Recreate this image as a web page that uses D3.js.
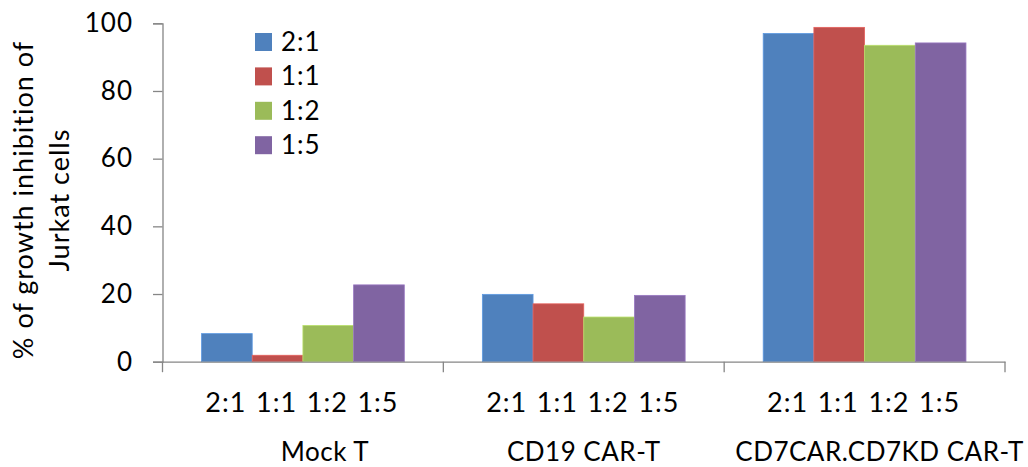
<!DOCTYPE html>
<html>
<head>
<meta charset="utf-8">
<script src="https://cdn.jsdelivr.net/npm/d3@7"></script>
<style>
  body { margin: 0; background: #fff; }
  text { font-family: Lato, "Open Sans", sans-serif; fill: #000; }
</style>
</head>
<body>
<div id="chart"></div>
<script>
// data
var groups = ["Mock T", "CD19 CAR-T", "CD7CAR.CD7KD CAR-T"];
var ratios = ["2:1", "1:1", "1:2", "1:5"];
var mockT = [8.3, 1.9, 10.7, 22.7];
var cd19 = [19.9, 17.1, 13.2, 19.6];
var cd7 = [97.0, 98.8, 93.5, 94.2];
var yTicks = [0, 20, 40, 60, 80, 100];
var colors = ["#4F81BD", "#C0504D", "#9BBB59", "#8064A2"];

var seriesByGroup = [mockT, cd19, cd7];

var width = 1028,
    height = 467;

var svg = d3.select("#chart")
    .append("svg")
    .attr("width", width)
    .attr("height", height);

var x0 = d3.scaleBand()
    .domain(groups)
    .range([162.5, 1005])
    .padding(0);

var x1 = d3.scaleBand()
    .domain(ratios)
    .range([0, x0.bandwidth()])
    .paddingInner(0)
    .paddingOuter(0.77);

var y = d3.scaleLinear()
    .domain([0, 100])
    .range([361.7, 23.3]);

var axisColor = "#868686";

// bars
var g = svg.selectAll(".grp")
    .data(groups)
    .enter().append("g")
    .attr("class", "grp")
    .attr("transform", function(d) { return "translate(" + x0(d) + ",0)"; });

g.selectAll("rect")
    .data(function(d, i) {
      return ratios.map(function(r, j) { return { r: r, v: seriesByGroup[i][j], c: colors[j] }; });
    })
    .enter().append("rect")
    .attr("x", function(d) { return x1(d.r); })
    .attr("y", function(d) { return y(d.v); })
    .attr("width", x1.bandwidth())
    .attr("height", function(d) { return y(0) - y(d.v); })
    .attr("fill", function(d) { return d.c; })
    .attr("stroke", function(d) { return d3.color(d.c).brighter(0.5); })
    .attr("stroke-width", 0.8);

// y axis
var yAxis = svg.append("g")
    .attr("transform", "translate(162.5,0)")
    .call(d3.axisLeft(y).tickValues(yTicks).tickSize(9.5).tickPadding(20));
yAxis.select(".domain").attr("stroke", axisColor).attr("stroke-width", 1.3);
yAxis.selectAll(".tick line").attr("stroke", axisColor).attr("stroke-width", 1.3);
yAxis.selectAll(".tick text")
    .style("font-family", "Lato, sans-serif")
    .style("letter-spacing", "1px")
    .attr("font-size", 26)
    .attr("fill", "#000");

// x baseline and group separators
var xAxis = svg.append("g")
    .attr("transform", "translate(0," + y(0) + ")")
    .call(d3.axisBottom(x0).tickSize(0).tickFormat(""));
xAxis.select(".domain").attr("stroke", axisColor).attr("stroke-width", 1.3);
xAxis.selectAll(".tick").remove();

var seps = groups.map(function(d) { return x0(d); }).concat([x0.range()[1]]);
svg.selectAll(".sep")
    .data(seps)
    .enter().append("line")
    .attr("x1", function(d) { return d; })
    .attr("x2", function(d) { return d; })
    .attr("y1", y(0))
    .attr("y2", y(0) + 10.5)
    .attr("stroke", axisColor)
    .attr("stroke-width", 1.3);

// ratio labels under each bar
g.selectAll(".rl")
    .data(ratios)
    .enter().append("text")
    .attr("class", "rl")
    .attr("x", function(d) { return x1(d) + x1.bandwidth() / 2 - 1; })
    .attr("y", 411.5)
    .attr("text-anchor", "middle")
    .attr("font-size", 27)
    .style("letter-spacing", "1px")
    .text(function(d) { return d; });

// group labels
var groupDx = [22, 0, 15];
g.append("text")
    .attr("x", function(d, i) { return x0.bandwidth() / 2 + groupDx[i]; })
    .attr("y", 461)
    .attr("text-anchor", "middle")
    .attr("font-size", 26)
    .style("letter-spacing", "0.5px")
    .text(function(d) { return d; });

// y title
var yt = svg.append("text")
    .attr("transform", "translate(0,200) rotate(-90)")
    .attr("text-anchor", "middle")
    .attr("font-size", 27)
    .style("letter-spacing", "1px");
yt.append("tspan").attr("x", 0).attr("y", 33).text("% of growth inhibition of");
yt.append("tspan").attr("x", 0).attr("y", 69).text("Jurkat cells");

// legend
var legend = svg.append("g").attr("transform", "translate(255,33)");
var li = legend.selectAll(".li")
    .data(ratios)
    .enter().append("g")
    .attr("transform", function(d, i) { return "translate(0," + i * 34.4 + ")"; });
li.append("rect")
    .attr("width", 17)
    .attr("height", 18)
    .attr("fill", function(d, i) { return colors[i]; });
li.append("text")
    .attr("x", 26)
    .attr("y", 18)
    .attr("font-size", 26)
    .style("letter-spacing", "1px")
    .text(function(d) { return d; });
</script>
</body>
</html>
